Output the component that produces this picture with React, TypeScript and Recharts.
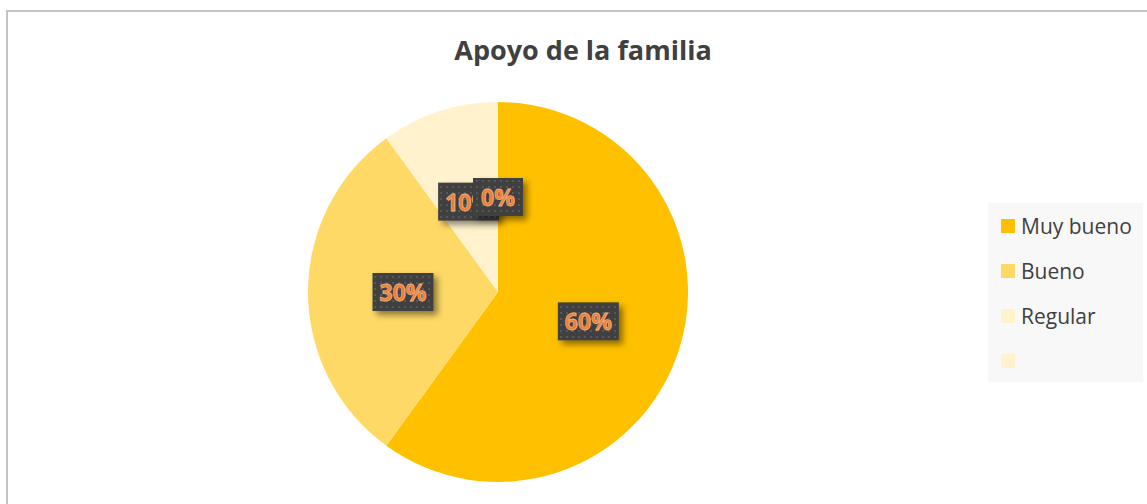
import { Cell, Legend, Pie, PieChart } from "recharts";

const categories = ["Muy bueno", "Bueno", "Regular", ""];
const values = [60, 30, 10, 0];
const colors = ["#FFC000", "#FFD966", "#FFF2CC", "#FFF2CC"];

const data = categories.map((name, i) => ({ name, value: values[i] }));

const RAD = Math.PI / 180;

const renderLabel = (props: any) => {
  const { cx, cy, midAngle, outerRadius, percent, index } = props;
  const r = outerRadius * 0.5;
  const x = cx + r * Math.cos(-midAngle * RAD);
  const y = cy + r * Math.sin(-midAngle * RAD);
  const text = `${Math.round(percent * 100)}%`;
  const w = text.length === 2 ? 50 : 61;
  const h = 38;
  const pid = `dots-${index}`;
  const fid = `shadow-${index}`;
  return (
    <g>
      <defs>
        <pattern id={pid} width="6" height="6" patternUnits="userSpaceOnUse">
          <rect width="6" height="6" fill="#404040" />
          <rect x="2" y="2" width="2" height="2" fill="#595959" />
        </pattern>
        <filter id={fid} x="-30%" y="-30%" width="160%" height="160%">
          <feDropShadow dx="4" dy="4" stdDeviation="3" floodColor="#000" floodOpacity="0.45" />
        </filter>
      </defs>
      <rect x={x - w / 2} y={y - h / 2} width={w} height={h} fill={`url(#${pid})`} filter={`url(#${fid})`} />
      <text
        x={x}
        y={y}
        textAnchor="middle"
        dominantBaseline="central"
        fill="#ED7D31"
        stroke="#F4B183"
        strokeWidth={0.8}
        fontFamily="Open Sans"
        fontWeight="bold"
        fontSize={23}
      >
        {text}
      </text>
    </g>
  );
};

const renderLegend = () => (
  <div
    style={{
      width: 155,
      height: 179,
      background: "#F8F8F8",
      boxSizing: "border-box",
      fontFamily: "Open Sans",
      fontSize: 21,
      color: "#404040",
    }}
  >
    {categories.map((name, i) => (
      <div key={i} style={{ display: "flex", alignItems: "center", height: 45 }}>
        <div style={{ width: 14, height: 14, background: colors[i], marginLeft: 13, marginRight: 6, flexShrink: 0 }} />
        <span style={{ whiteSpace: "nowrap" }}>{name}</span>
      </div>
    ))}
  </div>
);

export default function App() {
  return (
    <div
      style={{
        position: "absolute",
        left: 6,
        top: 10,
        width: 1154,
        height: 520,
        border: "2px solid #C4C4C4",
        boxSizing: "border-box",
        background: "#fff",
      }}
    >
      <style>{`.recharts-pie-sectors { filter: drop-shadow(0 2px 6px rgba(0,0,0,0.18)); }`}</style>
      <div
        style={{
          position: "absolute",
          left: 0,
          width: 1150,
          top: 19,
          textAlign: "center",
          fontFamily: "Open Sans",
          fontWeight: "bold",
          fontSize: 27,
          color: "#404040",
        }}
      >
        Apoyo de la familia
      </div>
      <div style={{ position: "absolute", left: -2, top: -2 }}>
        <PieChart width={1154} height={520} margin={{ top: 0, right: 0, bottom: 0, left: 0 }}>
          <Pie
            data={data}
            dataKey="value"
            nameKey="name"
            cx={492}
            cy={282}
            outerRadius={190}
            startAngle={90}
            endAngle={-270}
            stroke="none"
            label={renderLabel}
            labelLine={false}
            isAnimationActive={false}
          >
            {data.map((d, i) => (
              <Cell key={d.name + i} fill={colors[i]} />
            ))}
          </Pie>
          <Legend
            content={renderLegend}
            wrapperStyle={{ position: "absolute", left: 982, top: 193, width: 155 }}
          />
        </PieChart>
      </div>
    </div>
  );
}
